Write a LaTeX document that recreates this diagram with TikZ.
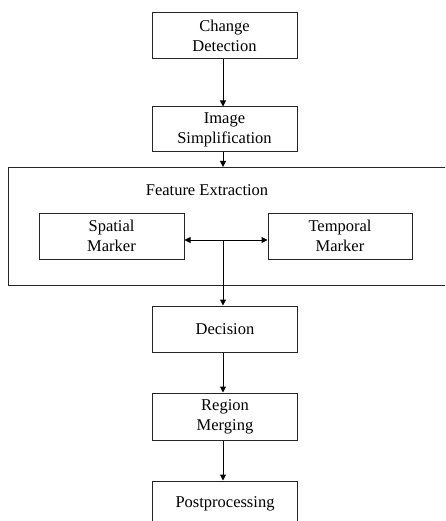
\documentclass[tikz,border=0pt]{standalone}
\usepackage{fontspec}
\setmainfont{Liberation Serif}
\usetikzlibrary{arrows.meta}
\begin{document}
\begin{tikzpicture}[x=1pt,y=-1pt,
  box/.style={draw=black!85,line width=1pt,minimum width=145pt,minimum height=46pt,inner sep=0pt,align=center,font=\fontsize{16.5}{20}\selectfont},
  arr/.style={line width=1pt,-{Triangle[width=6pt,length=6pt]}},
  every node/.style={text=black}]
\useasboundingbox (0,0) rectangle (445,521);
\clip (0,0) rectangle (445,521);
\node[draw=black!85,line width=1pt,anchor=north west,minimum width=460pt,minimum height=118pt,inner sep=0pt] (fe) at (8,167) {};
\node[box] (cd) at (224.5,36) {Change\\Detection};
\node[box,minimum height=45pt] (is) at (224.5,129.5) {Image\\Simplification};
\node[font=\fontsize{16.5}{20}\selectfont] (fel) at (207,190) {Feature Extraction};
\node[box] (sm) at (111.5,236) {Spatial\\Marker};
\node[box,minimum width=144pt] (tm) at (340,236) {Temporal\\Marker};
\coordinate (j) at (223,240);
\node[box] (dec) at (225,329) {Decision};
\node[box,minimum height=47pt] (rm) at (225,416.5) {Region\\Merging};
\node[box] (pp) at (225,504) {Postprocessing};
\draw[arr] ([xshift=-1.5pt]cd.south) -- ([xshift=-1.5pt]is.north);
\draw[arr] ([xshift=-1.5pt]is.south) -- ([xshift=-1.5pt]is.south |- fe.north);
\draw[arr] (j) -- (sm.east |- j);
\draw[arr] (j) -- (tm.west |- j);
\draw[arr] (j) -- (j |- dec.north);
\draw[arr] ([xshift=-2pt]rm.north |- dec.south) -- ([xshift=-2pt]rm.north);
\draw[arr] ([xshift=-2pt]rm.south) -- ([xshift=-2pt]pp.north);
\end{tikzpicture}
\end{document}
